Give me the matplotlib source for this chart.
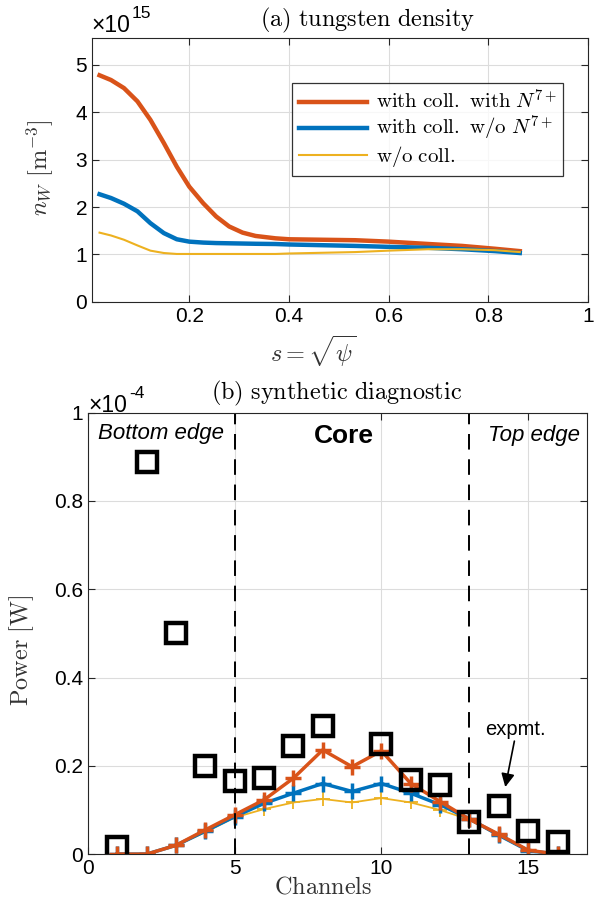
import numpy as np
import matplotlib
matplotlib.use('Agg')
import matplotlib.pyplot as plt

plt.rcParams['font.family'] = ['Liberation Sans', 'DejaVu Sans']
plt.rcParams['mathtext.fontset'] = 'cm'

# colores tipo MATLAB
c_red = '#D95319'
c_blue = '#0072BD'
c_yel = '#EDB120'

# (a) densidad de tungsteno, unidades 1e15 m^-3
s = [0.02, 0.043, 0.069, 0.096, 0.122, 0.149, 0.175, 0.2, 0.228, 0.254, 0.28, 0.307, 0.333, 0.373,
     0.4, 0.533, 0.6, 0.68, 0.747, 0.813, 0.863]
n_red = [4.78, 4.68, 4.51, 4.23, 3.84, 3.35, 2.85, 2.43, 2.08, 1.80, 1.59, 1.46, 1.39, 1.34,
         1.32, 1.30, 1.27, 1.22, 1.18, 1.12, 1.07]
n_blue = [2.27, 2.19, 2.07, 1.91, 1.66, 1.45, 1.32, 1.27, 1.25, 1.24, 1.235, 1.23, 1.225, 1.22,
          1.21, 1.18, 1.16, 1.14, 1.11, 1.07, 1.03]
n_yel = [1.46, 1.40, 1.31, 1.19, 1.08, 1.03, 1.01, 1.01, 1.01, 1.01, 1.01, 1.01, 1.01, 1.01,
         1.02, 1.05, 1.08, 1.11, 1.11, 1.09, 1.05]
leg_labels = [r'$\mathrm{with\ coll.\ with\ }N^{7+}$', r'$\mathrm{with\ coll.\ w/o\ }N^{7+}$', r'$\mathrm{w/o\ coll.}$']

# (b) diagnostico sintetico, unidades 1e-4 W
ch = np.arange(1, 17)
p_red = [0, 0, 0.02, 0.055, 0.089, 0.123, 0.172, 0.236, 0.198, 0.234, 0.16, 0.119, 0.079, 0.045, 0.009, 0]
p_blue = [0, 0, 0.02, 0.052, 0.085, 0.115, 0.138, 0.16, 0.142, 0.16, 0.138, 0.112, 0.08, 0.043, 0.008, 0]
p_yel = [0, 0, 0.019, 0.05, 0.083, 0.102, 0.117, 0.125, 0.117, 0.127, 0.117, 0.1, 0.078, 0.042, 0.007, 0]
ch_exp = [1, 2, 3, 4, 5, 6, 7, 8, 10, 11, 12, 13, 14, 15, 16]
p_exp = [0.017, 0.889, 0.5, 0.2, 0.166, 0.172, 0.245, 0.29, 0.25, 0.168, 0.157, 0.072, 0.11, 0.052, 0.028]

fig = plt.figure(figsize=(5.94, 9.01), dpi=100)

def estilo(ax):
    ax.grid(True, color='#dcdcdc', lw=0.8)
    ax.set_axisbelow(True)
    ax.tick_params(direction='in', top=True, right=True, labelsize=15, length=5, width=0.8, color='#262626')
    for sp in ax.spines.values():
        sp.set_color('#262626')
        sp.set_linewidth(0.8)

# ---- panel (a)
ax1 = fig.add_axes([0.155, 0.665, 0.835, 0.293])
ax1.plot(s, n_red, color=c_red, lw=3.2, label=leg_labels[0])
ax1.plot(s, n_blue, color=c_blue, lw=3.2, label=leg_labels[1])
ax1.plot(s, n_yel, color=c_yel, lw=1.5, label=leg_labels[2])
ax1.set_xlim(0.005, 1)
ax1.set_ylim(0, 5.57)
ax1.set_xticks([0.2, 0.4, 0.6, 0.8, 1])
ax1.set_xticklabels(['0.2', '0.4', '0.6', '0.8', '1'])
ax1.set_yticks([0, 1, 2, 3, 4, 5])
estilo(ax1)
leg = ax1.legend(loc='upper right', bbox_to_anchor=(0.95, 0.83), fontsize=15, frameon=True,
                 fancybox=False, edgecolor='black', handlelength=3.3, handletextpad=0.4,
                 borderpad=0.3, labelspacing=0.05, borderaxespad=0)
leg.get_frame().set_linewidth(0.9)
fig.text(368/594, 1-20/901, r'$\mathrm{(a)\ tungsten\ density}$', fontsize=17.5, ha='center', va='center')
fig.text(91/594, 1-25/901, '×10', fontsize=16.5, ha='left', va='center')
fig.text(132/594, 1-14/901, '15', fontsize=12.5, ha='left', va='center')
fig.text(40/594, 1-168/901, r'$n_W\ [\mathrm{m}^{-3}]$', fontsize=17.5, rotation=90, ha='center', va='center', color='#333333')
fig.text(313/594, 1-351/901, r'$s=\sqrt{\psi}$', fontsize=17.5, ha='center', va='center', color='#333333')

# ---- panel (b)
ax2 = fig.add_axes([0.148, 0.052, 0.84, 0.49])
ax2.plot(ch, p_yel, color=c_yel, lw=1.3, marker='+', ms=10, mew=1.3)
ax2.plot(ch, p_blue, color=c_blue, lw=2.5, marker='+', ms=11, mew=2.5)
ax2.plot(ch, p_red, color=c_red, lw=2.5, marker='+', ms=11, mew=2.5)
ax2.plot(ch_exp, p_exp, ls='none', marker='s', ms=14, mfc='none', mec='black', mew=3.2)
ax2.axvline(5, color='black', ls=(0, (8, 5)), lw=1.4)
ax2.axvline(13, color='black', ls=(0, (8, 5)), lw=1.4)
ax2.set_xlim(0, 17)
ax2.set_ylim(0, 1)
ax2.set_xticks([0, 5, 10, 15])
ax2.set_yticks([0, 0.2, 0.4, 0.6, 0.8, 1])
ax2.set_yticklabels(['0', '0.2', '0.4', '0.6', '0.8', '1'])
estilo(ax2)
ax2.text(2.5, 0.952, 'Bottom edge', fontsize=16, style='italic', ha='center', va='center')
ax2.text(8.72, 0.946, 'Core', fontsize=19, weight='bold', ha='center', va='center')
ax2.text(15.2, 0.948, 'Top edge', fontsize=16, style='italic', ha='center', va='center')
ax2.text(14.55, 0.282, 'expmt.', fontsize=14.5, ha='center', va='center')
ax2.annotate('', xy=(14.22, 0.152), xytext=(14.53, 0.256),
             arrowprops=dict(arrowstyle='-|>', color='black', lw=1.2, mutation_scale=20, shrinkA=0, shrinkB=0))
fig.text(337/594, 1-393/901, r'$\mathrm{(b)\ synthetic\ diagnostic}$', fontsize=17.5, ha='center', va='center')
fig.text(88/594, 1-406/901, '×10', fontsize=16.5, ha='left', va='center')
fig.text(129/594, 1-394/901, '-4', fontsize=12.5, ha='left', va='center')
fig.text(22/594, 1-650/901, r'$\mathrm{Power\ [W]}$', fontsize=17.5, rotation=90, ha='center', va='center', color='#333333')
fig.text(323/594, 1-888/901, r'$\mathrm{Channels}$', fontsize=17.5, ha='center', va='center', color='#333333')

fig.savefig('out.png', dpi=100)
